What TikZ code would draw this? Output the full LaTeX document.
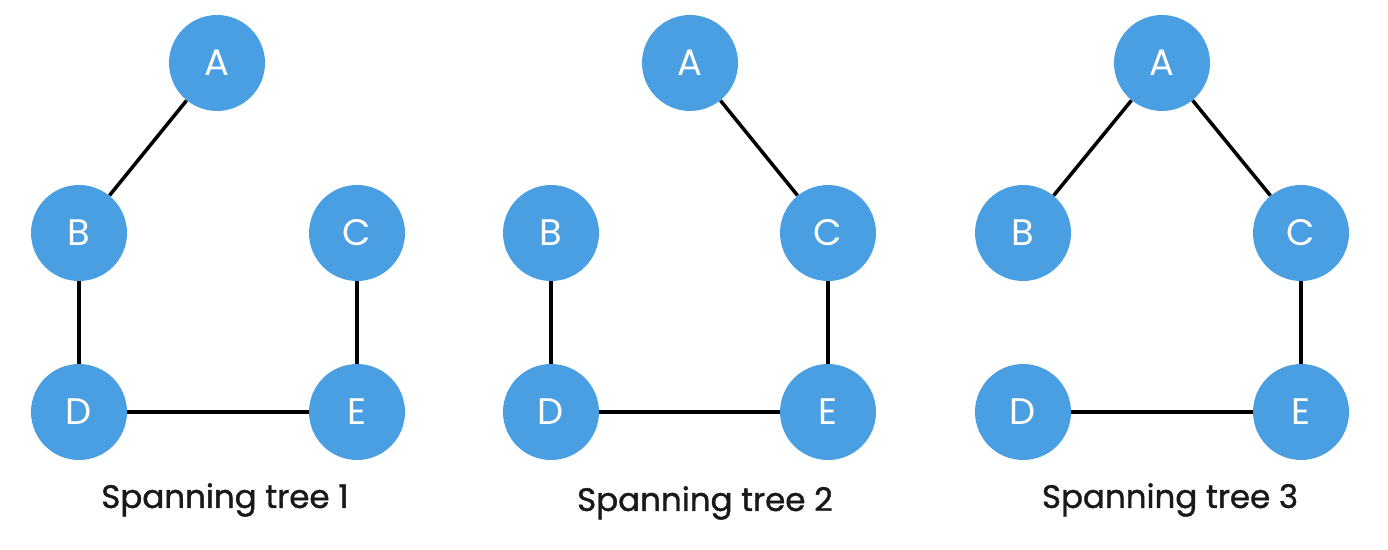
\documentclass[tikz,border=0pt]{standalone}
\usepackage{fontspec}
\setmainfont{Poppins}
\newfontfamily\captionfont{Poppins}[FakeBold=1.2]
\usepackage{xcolor}
\definecolor{nodeblue}{HTML}{4A9FE3}
\tikzset{
    vertex/.style={circle, fill=nodeblue, minimum size=1.92cm, inner sep=0pt, text=white, font=\fontsize{21}{25}\selectfont},
    edge/.style={black, line width=2pt},
    caption/.style={font=\captionfont\fontsize{18.5}{22}\selectfont, text=black!90}
}

\begin{document}
\begin{tikzpicture}[x=0.02cm, y=-0.02cm]
                \useasboundingbox (0,0) rectangle (1388,550);
                % tree 1
                \node[vertex] (a1) at (217,63) {A};
                \node[vertex] (b1) at (79,233) {B};
                \node[vertex] (c1) at (357,233) {C};
                \node[vertex] (d1) at (79,412) {D};
                \node[vertex] (e1) at (357,412) {E};
                \node[caption] (t1) at (225,500) {Spanning tree 1};
                \draw[edge] (a1) -- (b1);
                \draw[edge] (b1) -- (d1);
                \draw[edge] (d1) -- (e1);
                \draw[edge] (e1) -- (c1);
                % tree 2
                \node[vertex] (a2) at (690,63) {A};
                \node[vertex] (b2) at (551,233) {B};
                \node[vertex] (c2) at (828,233) {C};
                \node[vertex] (d2) at (551,412) {D};
                \node[vertex] (e2) at (828,412) {E};
                \node[caption] (t2) at (705,503) {Spanning tree 2};
                \draw[edge] (a2) -- (c2);
                \draw[edge] (b2) -- (d2);
                \draw[edge] (d2) -- (e2);
                \draw[edge] (c2) -- (e2);
                % tree 3
                \node[vertex] (a3) at (1162,63) {A};
                \node[vertex] (b3) at (1023,233) {B};
                \node[vertex] (c3) at (1301,233) {C};
                \node[vertex] (d3) at (1023,412) {D};
                \node[vertex] (e3) at (1301,412) {E};
                \node[caption] (t3) at (1170,500) {Spanning tree 3};
                \draw[edge] (a3) -- (b3);
                \draw[edge] (a3) -- (c3);
                \draw[edge] (c3) -- (e3);
                \draw[edge] (d3) -- (e3);
            \end{tikzpicture}
\end{document}
